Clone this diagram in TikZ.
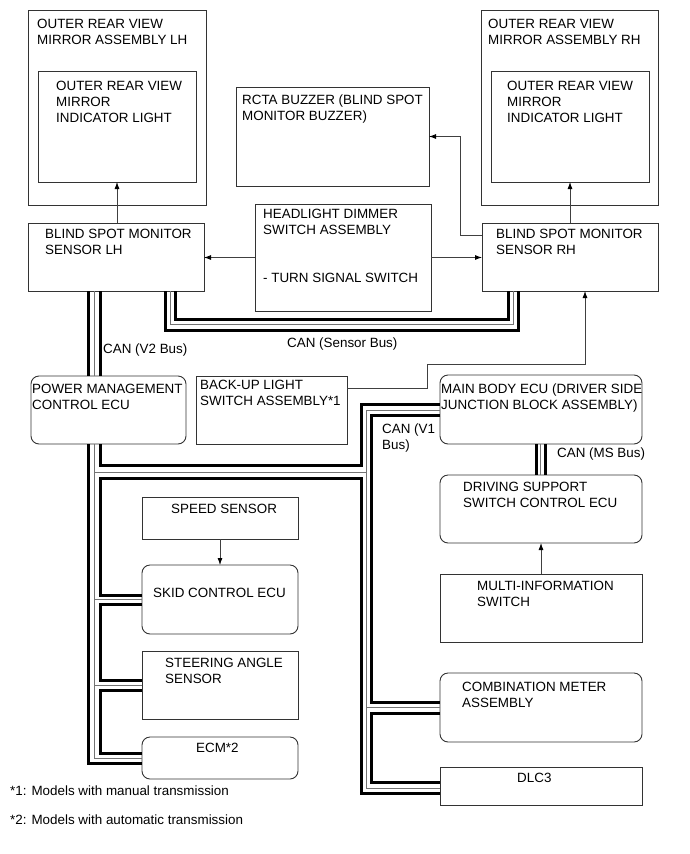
\documentclass[tikz,border=0pt]{standalone}
\usepackage{fontspec}
\setmainfont{Liberation Sans}
\usetikzlibrary{arrows.meta}

\tikzset{
  blk/.style={draw=black!80, line width=0.9pt, anchor=north west, inner sep=0pt, outer sep=0pt},
  rblk/.style={blk, rounded corners=8pt},
  lbl/.style={anchor=base west, inner sep=0pt, align=left},
  hw/.style={line width=3pt},
  lw/.style={line width=0.9pt, black!55},
  arr/.style={line width=0.8pt, black!75, -{Latex[length=7pt,width=5pt,black]}}
}

\begin{document}
\begin{tikzpicture}[x=1pt,y=-1pt,font=\fontsize{13.4}{16}\selectfont]
  \useasboundingbox (0,0) rectangle (689,854);
  % boxes
  \node[blk, minimum width=178pt, minimum height=195pt] (outL) at (28,10) {};
  \node[blk, minimum width=158pt, minimum height=111pt] (inL) at (38,71) {};
  \node[blk, minimum width=176pt, minimum height=68pt] (bsmL) at (28,223) {};
  \node[blk, minimum width=193pt, minimum height=99pt] (rcta) at (236,87) {};
  \node[blk, minimum width=176pt, minimum height=107pt] (hdim) at (255,204) {};
  \node[blk, minimum width=177pt, minimum height=195pt] (outR) at (481,10) {};
  \node[blk, minimum width=158pt, minimum height=111pt] (inR) at (491,71) {};
  \node[blk, minimum width=176pt, minimum height=68pt] (bsmR) at (482,223) {};
  \node[rblk, minimum width=155pt, minimum height=68pt] (pmecu) at (31,376) {};
  \node[blk, minimum width=151pt, minimum height=68pt] (bkup) at (196,376) {};
  \node[rblk, minimum width=202pt, minimum height=69pt] (mbecu) at (440,375) {};
  \node[rblk, minimum width=202pt, minimum height=68pt] (dsecu) at (440,475) {};
  \node[blk, minimum width=202pt, minimum height=68pt] (multi) at (440,574) {};
  \node[blk, minimum width=156pt, minimum height=42pt] (speed) at (142,497) {};
  \node[rblk, minimum width=156pt, minimum height=69pt] (skid) at (142,565) {};
  \node[blk, minimum width=156pt, minimum height=68pt] (steer) at (142,651) {};
  \node[rblk, minimum width=156pt, minimum height=42pt] (ecm) at (142,737) {};
  \node[rblk, minimum width=202pt, minimum height=69pt] (combo) at (440,673) {};
  \node[blk, minimum width=202pt, minimum height=38pt] (dlc) at (440,767) {};

  % texts (anchored on the last line)
  \node[lbl] (outLt) at (37,44) {OUTER REAR VIEW\\MIRROR ASSEMBLY LH};
  \node[lbl] (inLt) at (56,122) {OUTER REAR VIEW\\MIRROR\\INDICATOR LIGHT};
  \node[lbl] (bsmLt) at (45,254.5) {BLIND SPOT MONITOR\\SENSOR LH};
  \node[lbl] (rctat) at (242,120) {RCTA BUZZER (BLIND SPOT\\MONITOR BUZZER)};
  \node[lbl] (hdimt) at (263,282.5) {HEADLIGHT DIMMER\\SWITCH ASSEMBLY\\[32pt]- TURN SIGNAL SWITCH};
  \node[lbl] (outRt) at (488,44) {OUTER REAR VIEW\\MIRROR ASSEMBLY RH};
  \node[lbl] (inRt) at (507,122) {OUTER REAR VIEW\\MIRROR\\INDICATOR LIGHT};
  \node[lbl] (bsmRt) at (496,254.5) {BLIND SPOT MONITOR\\SENSOR RH};
  \node[lbl] (pmecut) at (32,409) {POWER MANAGEMENT\\CONTROL ECU};
  \node[lbl] (bkupt) at (200,405.5) {BACK-UP LIGHT\\SWITCH ASSEMBLY*1};
  \node[lbl] (mbecut) at (441,409) {MAIN BODY ECU (DRIVER SIDE\\JUNCTION BLOCK ASSEMBLY)};
  \node[lbl] (dsecut) at (463,507.5) {DRIVING SUPPORT\\SWITCH CONTROL ECU};
  \node[lbl] (multit) at (477,606) {MULTI-INFORMATION\\SWITCH};
  \node[lbl] (speedt) at (171,513) {SPEED SENSOR};
  \node[lbl] (skidt) at (153,597) {SKID CONTROL ECU};
  \node[lbl] (steert) at (165,683) {STEERING ANGLE\\SENSOR};
  \node[lbl] (ecmt) at (196,752) {ECM*2};
  \node[lbl] (combot) at (462,707) {COMBINATION METER\\ASSEMBLY};
  \node[lbl] (dlct) at (517,782) {DLC3};
  \node[lbl] (sbus) at (287,347) {CAN (Sensor Bus)};
  \node[lbl] (v2bus) at (103,353) {CAN (V2 Bus)};
  \node[lbl] (v1bus) at (382,449) {CAN (V1\\Bus)};
  \node[lbl] (msbus) at (557,457) {CAN (MS Bus)};
  \node[lbl] (note1) at (10,795) {*1: Models with manual transmission};
  \node[lbl] (note2) at (10,824) {*2: Models with automatic transmission};

  % signal lines
  \draw[arr] (bsmL.north -| inL.south) -- (inL.south);
  \draw[arr] (bsmR.north -| inR.south) -- (inR.south);
  \draw[arr] (hdim.west) -- (hdim.west -| bsmL.east);
  \draw[arr] (hdim.east) -- (hdim.east -| bsmR.west);
  \draw[arr] ([yshift=-12pt]bsmR.north west) -- ++(-22,0) |- (rcta.east);
  \draw[arr] ([yshift=-12pt]bkup.north east) -| (427,364) -| ([xshift=15pt]bsmR.south);
  \draw[arr] (multi.north) -- (dsecu.south);
  \draw[arr] (speed.south) -- (skid.north);

  % bus lanes
  \coordinate (oL) at (88.5,0); \coordinate (tL) at (94.5,0); \coordinate (iL) at (100,0);
  \coordinate (oR) at (361,0); \coordinate (tR) at (366,0); \coordinate (iR) at (371,0);

  % CAN (Sensor Bus)
  \draw[hw] (bsmL.south -| 165,0) |- (518,330) -- (bsmR.south -| 518,0);
  \draw[lw] (bsmL.south -| 170.5,0) |- (513,324.5) -- (bsmR.south -| 513,0);
  \draw[hw] (bsmL.south -| 175,0) |- (508,319.5) -- (bsmR.south -| 508,0);

  % CAN (V2 Bus)
  \draw[hw] (bsmL.south -| oL) -- (pmecu.north -| oL);
  \draw[lw] (bsmL.south -| tL) -- (pmecu.north -| tL);
  \draw[hw] (bsmL.south -| iL) -- (pmecu.north -| iL);

  % CAN (V1 Bus)
  \draw[hw] (pmecu.south -| iL) |- (oR |- 0,465) |- ([yshift=-29pt]mbecu.north west);
  \draw[lw] (pmecu.south -| tL) |- ([yshift=-21pt]ecm.north west);
  \draw[lw] (tL |- 0,472) -| (tR |- 0,410) -- ([yshift=-35pt]mbecu.north west);
  \draw[lw] (tR |- 0,472) |- ([yshift=-21pt]dlc.north west);
  \draw[lw] ([yshift=-34.5pt]skid.north west) -- ++(-47.5,0);
  \draw[lw] ([yshift=-34pt]steer.north west) -- ++(-47.5,0);
  \draw[lw] ([yshift=-34pt]combo.north west) -- ++(-74,0);
  \draw[hw] ([yshift=-26pt]dlc.north west) -| (oR |- 0,478) -- (iL |- 0,478) |- ([yshift=-30pt]skid.north west);
  \draw[hw] ([yshift=-40.5pt]mbecu.north west) -| (iR |- 0,702) -- ([yshift=-29pt]combo.north west);
  \draw[hw] ([yshift=-40pt]combo.north west) -| (iR |- 0,782) -- ([yshift=-15pt]dlc.north west);
  \draw[hw] ([yshift=-39pt]skid.north west) -| (iL |- 0,680) -- ([yshift=-29pt]steer.north west);
  \draw[hw] ([yshift=-39pt]steer.north west) -| (iL |- 0,753) -- ([yshift=-16pt]ecm.north west);
  \draw[hw] (pmecu.south -| oL) |- ([yshift=-26pt]ecm.north west);

  % CAN (MS Bus)
  \draw[hw] (mbecu.south -| 536,0) -- (dsecu.north -| 536,0);
  \draw[lw] (mbecu.south -| 540.5,0) -- (dsecu.north -| 540.5,0);
  \draw[hw] (mbecu.south -| 545,0) -- (dsecu.north -| 545,0);
\end{tikzpicture}
\end{document}
